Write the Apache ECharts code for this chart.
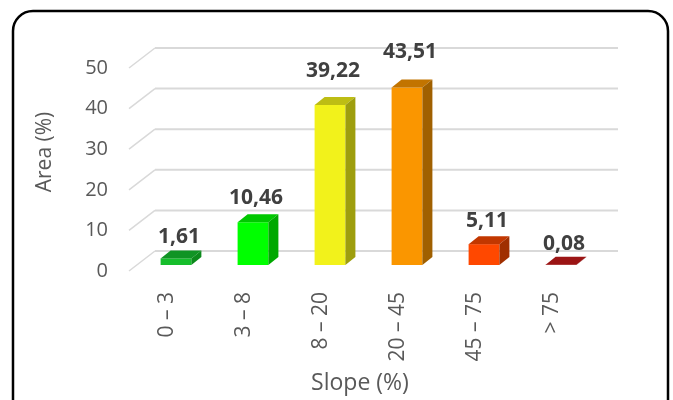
<!DOCTYPE html>
<html>
<head>
<meta charset="utf-8">
<script src="https://cdn.jsdelivr.net/npm/echarts@6/dist/echarts.min.js"></script>
<style>
  html, body { margin: 0; padding: 0; background: #fff; }
  #chart { width: 673px; height: 400px; }
</style>
</head>
<body>
<div id="chart"></div>
<script>
const categories = ["0 – 3", "3 – 8", "8 – 20", "20 – 45", "45 – 75", "> 75"];
const areaValues = [1.61, 10.46, 39.22, 43.51, 5.11, 0.08];
const yTicks = [0, 10, 20, 30, 40, 50];

// colours for the faces of each bar
const frontColors = ["#16BE2C", "#00FF00", "#F2F21B", "#FA9600", "#FF4800", "#A01616"];
const topColors = ["#109424", "#00C800", "#BDBD14", "#C27400", "#C23700", "#9B1414"];
const sideColors = ["#0C8A1C", "#00A800", "#9E9E0E", "#A06000", "#A02F00", "#7A0E0E"];

(function () {
  let dom = document.querySelector("#chart");
  let myChart = echarts.init(dom);
  const font = "'Open Sans', 'Noto Sans', sans-serif";
  const depthX = 10, depthY = 8; // bar depth
  const wallX = 26, wallY = 20;  // back wall offset

  let options = {
    animation: false,
    graphic: [
      {
        type: "rect",
        shape: { x: 13, y: 11, width: 655, height: 420, r: 20 },
        style: { fill: "none", stroke: "#000", lineWidth: 2.5 }
      },
      {
        type: "text",
        x: 45, y: 152, rotation: Math.PI / 2,
        style: {
          text: "Area (%)", fill: "#595959", font: "21px " + font,
          align: "center", verticalAlign: "middle"
        }
      }
    ],
    grid: [
      // plane of the bars
      { left: 137.5, top: 61, width: 462, height: 204 },
      // front plane (labels)
      { left: 129, top: 68, width: 462, height: 204 }
    ],
    xAxis: [
      {
        gridIndex: 0, type: "category", data: categories,
        axisLine: { show: false }, axisTick: { show: false }, axisLabel: { show: false }
      },
      {
        gridIndex: 1, type: "category", data: categories,
        axisLine: { show: false }, axisTick: { show: false },
        axisLabel: { rotate: 90, margin: 21, color: "#595959", fontSize: 21, fontFamily: font },
        name: "Slope (%)", nameLocation: "middle", nameGap: 101,
        nameTextStyle: { color: "#595959", fontSize: 23, fontFamily: font }
      }
    ],
    yAxis: [
      {
        gridIndex: 0, type: "value", min: 0, max: 50, interval: 10,
        axisLine: { show: false }, axisTick: { show: false },
        axisLabel: { show: false }, splitLine: { show: false }
      },
      {
        gridIndex: 1, type: "value", min: 0, max: 50, interval: 10,
        axisLine: { show: false }, axisTick: { show: false }, splitLine: { show: false },
        axisLabel: { margin: 21, color: "#595959", fontSize: 20, fontFamily: font }
      }
    ],
    series: [
      {
        // back wall gridlines and the floor diagonals
        type: "custom",
        xAxisIndex: 1, yAxisIndex: 1,
        silent: true,
        data: yTicks.map((t) => [0, t]),
        renderItem: function (params, api) {
          let cs = params.coordSys;
          let y = api.coord([0, api.value(1)])[1];
          let x0 = cs.x;
          return {
            type: "group",
            children: [
              {
                type: "line",
                shape: { x1: x0, y1: y, x2: x0 + wallX, y2: y - wallY },
                style: { stroke: "#D9D9D9", lineWidth: 1.5 }
              },
              {
                type: "line",
                shape: { x1: x0 + wallX, y1: y - wallY, x2: x0 + wallX + cs.width + 1, y2: y - wallY },
                style: { stroke: "#D9D9D9", lineWidth: 2 }
              }
            ]
          };
        }
      },
      {
        type: "custom",
        xAxisIndex: 0, yAxisIndex: 0,
        data: areaValues.map((v, i) => [i, v]),
        renderItem: function (params, api) {
          let i = api.value(0);
          let v = api.value(1);
          let top = api.coord([i, v]);
          let base = api.coord([i, 0]);
          let w = api.size([1, 0])[0] * 0.4;
          let x0 = top[0] - w / 2, x1 = x0 + w;
          let yt = top[1], yb = base[1];
          let labelY = yt - 21 - 0.082 * (yb - yt);
          return {
            type: "group",
            children: [
              {
                type: "rect",
                shape: { x: x0, y: yt, width: w, height: yb - yt },
                style: { fill: frontColors[i] }
              },
              {
                type: "polygon",
                shape: { points: [[x0, yt], [x0 + depthX, yt - depthY], [x1 + depthX, yt - depthY], [x1, yt]] },
                style: { fill: topColors[i] }
              },
              {
                type: "polygon",
                shape: { points: [[x1, yt], [x1 + depthX, yt - depthY], [x1 + depthX, yb - depthY], [x1, yb]] },
                style: { fill: sideColors[i] }
              },
              {
                type: "text",
                x: top[0] + 3, y: labelY,
                style: {
                  text: v.toFixed(2).replace(".", ","),
                  fill: "#404040", font: "bold 21px " + font,
                  align: "center", verticalAlign: "middle"
                }
              }
            ]
          };
        }
      }
    ]
  };
  myChart.setOption(options);
  window.addEventListener("resize", () => {
    myChart.resize();
  });
})();
</script>
</body>
</html>
